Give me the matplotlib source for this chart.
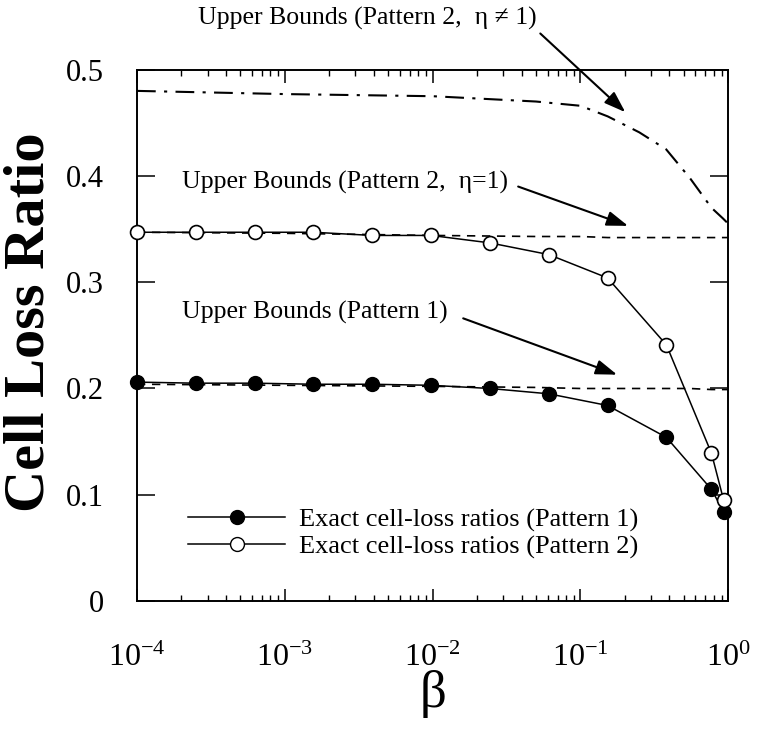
import matplotlib
matplotlib.use("Agg")
import matplotlib.pyplot as plt
from matplotlib.lines import Line2D
from matplotlib.ticker import FixedLocator, LogLocator, NullFormatter

plt.rcParams['font.family'] = ['Liberation Serif', 'DejaVu Serif']
plt.rcParams['mathtext.fontset'] = 'custom'
plt.rcParams['mathtext.rm'] = 'Liberation Serif'
plt.rcParams['mathtext.it'] = 'Liberation Serif:italic'

# valori
beta = [1e-4, 2.5e-4, 6.25e-4, 1.5625e-3, 3.906e-3, 9.766e-3,
        2.441e-2, 6.104e-2, 0.1526, 0.3815, 0.77, 0.93]
clr_pattern1 = [0.206, 0.205, 0.205, 0.204, 0.204, 0.203,
                0.200, 0.195, 0.184, 0.154, 0.105, 0.084]
clr_pattern2 = [0.347, 0.347, 0.347, 0.347, 0.344, 0.344,
                0.337, 0.326, 0.304, 0.241, 0.139, 0.095]

beta_bound = [1e-4, 1e-3, 1e-2, 0.05, 0.1, 0.153, 0.25, 0.38, 0.55, 0.77, 0.92, 1.0]
bound_p1 = [0.204, 0.203, 0.202, 0.201, 0.200, 0.200, 0.200, 0.200, 0.200, 0.199, 0.199, 0.199]
bound_p2_eta1 = [0.347, 0.346, 0.344, 0.343, 0.343, 0.342, 0.342, 0.342, 0.342, 0.342, 0.342, 0.342]
bound_p2_eta = [0.480, 0.477, 0.475, 0.470, 0.466, 0.456, 0.441, 0.425, 0.398, 0.370, 0.360, 0.355]

x_ticks = [1e-4, 1e-3, 1e-2, 1e-1, 1e0]
x_ticklabels = ['10$^{\\mathregular{-4}}$', '10$^{\\mathregular{-3}}$', '10$^{\\mathregular{-2}}$',
                '10$^{\\mathregular{-1}}$', '10$^{\\mathregular{0}}$']
y_ticks = [0, 0.1, 0.2, 0.3, 0.4, 0.5]
y_ticklabels = ['0', '0.1', '0.2', '0.3', '0.4', '0.5']

fig = plt.figure(figsize=(7.61, 7.33), dpi=100)
ax = fig.add_axes([0.18, 0.18, 0.777, 0.725])

# limiti superiori
ax.plot(beta_bound, bound_p1, color='black', lw=1.2, linestyle=(0, (5, 4)), zorder=2)
ax.plot(beta_bound, bound_p2_eta1, color='black', lw=1.2, linestyle=(0, (5, 4)), zorder=2)
ax.plot(beta_bound, bound_p2_eta, color='black', lw=1.5, linestyle=(0, (9, 4, 1.5, 4)), zorder=2)

# valori esatti
ax.plot(beta, clr_pattern1, color='black', lw=1.1, marker='o', markersize=10,
        markerfacecolor='black', markeredgecolor='black', zorder=3, clip_on=False)
ax.plot(beta, clr_pattern2, color='black', lw=1.1, marker='o', markersize=10,
        markerfacecolor='white', markeredgecolor='black', markeredgewidth=1.2,
        zorder=4, clip_on=False)

ax.set_xscale('log')
ax.set_xlim(1e-4, 1e0)
ax.set_ylim(0, 0.5)

ax.xaxis.set_major_locator(FixedLocator(x_ticks))
ax.set_xticklabels(x_ticklabels)
ax.xaxis.set_minor_locator(LogLocator(base=10, subs=range(2, 10), numticks=20))
ax.xaxis.set_minor_formatter(NullFormatter())
ax.set_yticks(y_ticks)
ax.set_yticklabels(y_ticklabels)

ax.tick_params(axis='x', which='major', direction='in', length=9, width=1.1,
               top=True, labelsize=23, pad=31)
ax.tick_params(axis='x', which='minor', direction='in', length=4.5, width=1.0, top=True)
ax.tick_params(axis='y', which='major', direction='in', length=13, width=1.1,
               right=True, labelsize=22, pad=24)
for s in ax.spines.values():
    s.set_linewidth(1.4)

ax.set_ylabel('Cell Loss Ratio', fontsize=42, fontweight='bold')
ax.yaxis.set_label_coords(-0.138, 0.525)
ax.set_xlabel('β', fontsize=38)
ax.xaxis.set_label_coords(0.5, -0.13)

# annotazioni con frecce
arrow = dict(arrowstyle='-|>,head_length=1.3,head_width=0.45', color='black', lw=1.5,
             shrinkA=0, shrinkB=0)
ax.annotate('', xy=(0.201, 0.460), xytext=(0.0535, 0.534), arrowprops=arrow,
            annotation_clip=False)
ax.text(3.6e-3, 0.548, 'Upper Bounds (Pattern 2,  η ≠ 1)', fontsize=18.5,
        ha='center', va='center', clip_on=False)
ax.annotate('', xy=(0.21, 0.353), xytext=(0.0379, 0.390), arrowprops=arrow)
ax.text(2.56e-3, 0.394, 'Upper Bounds (Pattern 2,  η=1)', fontsize=18.5,
        ha='center', va='center')
ax.annotate('', xy=(0.177, 0.213), xytext=(0.0161, 0.266), arrowprops=arrow)
ax.text(1.6e-3, 0.272, 'Upper Bounds (Pattern 1)', fontsize=18.5,
        ha='center', va='center')

handles = [
    Line2D([], [], color='black', lw=1.1, marker='o', markersize=10,
           markerfacecolor='black', markeredgecolor='black'),
    Line2D([], [], color='black', lw=1.1, marker='o', markersize=10,
           markerfacecolor='white', markeredgecolor='black'),
]
ax.legend(handles, ['Exact cell-loss ratios (Pattern 1)', 'Exact cell-loss ratios (Pattern 2)'],
          loc='center left', bbox_to_anchor=(0.086, 0.127), frameon=False, fontsize=19,
          handlelength=3.7, handletextpad=0.5, labelspacing=0.12, borderpad=0,
          borderaxespad=0)

fig.savefig('out.png', dpi=100)
